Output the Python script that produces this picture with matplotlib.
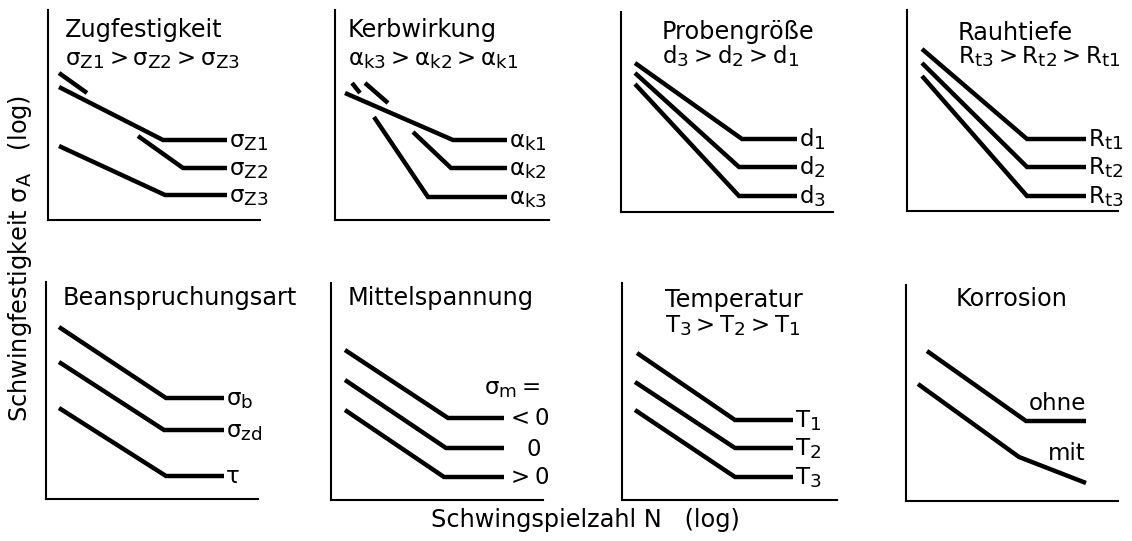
import matplotlib

matplotlib.use("Agg")

import numpy as np
import matplotlib.pyplot as plt
import matplotlib._mathtext as mathtext_internals

plt.rcParams["font.family"] = ["DejaVu Sans"]
plt.rcParams["mathtext.fontset"] = "dejavusans"
plt.rcParams["mathtext.default"] = "regular"
# the book figure uses rather large subscripts
mathtext_internals.SHRINK_FACTOR = 0.8

nan = np.nan

# curves per panel, in panel units (log N to the right, log sigma_A upwards)
zug_x = [[11, 115, 179], [11, 39, nan, 90, 135, 179], [11, 117, 179]]
zug_y = [[133, 80, 80], [147, 127, nan, 84, 52, 52], [74, 25, 25]]
zug_labels = ["$σ_{Z1}$", "$σ_{Z2}$", "$σ_{Z3}$"]

kerb_x = [[10, 118, 172], [30, 53, nan, 78, 116, 172], [17, 25, nan, 39, 93, 172]]
kerb_y = [[127, 80, 80], [137, 117, nan, 88, 52, 52], [137, 127, nan, 103, 23, 23]]
kerb_labels = ["$α_{k1}$", "$α_{k2}$", "$α_{k3}$"]

probe_x = [[14, 121, 176], [14, 118, 176], [14, 118, 176]]
probe_y = [[149, 73, 73], [139, 45, 45], [128, 16, 16]]
probe_labels = ["$d_1$", "$d_2$", "$d_3$"]

rauh_x = [[15, 120, 179], [15, 120, 179], [15, 120, 179]]
rauh_y = [[162, 72, 72], [148, 44, 44], [135, 15, 15]]
rauh_labels = ["$R_{t1}$", "$R_{t2}$", "$R_{t3}$"]

bean_x = [[13, 120, 178], [13, 118, 178], [13, 120, 178]]
bean_y = [[172, 101, 101], [137, 69, 69], [91, 23, 23]]
bean_labels = ["$σ_b$", "$σ_{zd}$", "τ"]

mittel_x = [[14, 117, 173], [14, 115, 173], [14, 113, 173]]
mittel_y = [[150, 82, 82], [120, 52, 52], [90, 23, 23]]
mittel_labels = ["$<$0", "", "$>$0"]

temp_x = [[15, 113, 171], [13, 113, 171], [13, 113, 171]]
temp_y = [[147, 80, 80], [118, 52, 52], [90, 23, 23]]
temp_labels = ["$T_1$", "$T_2$", "$T_3$"]

korr_x = [[21, 120, 180], [12, 113, 180]]
korr_y = [[150, 80, 80], [117, 44, 18]]
korr_labels = ["", ""]

W, H = 1132, 541

panels = [
    dict(box=(48, 10, 260, 220), title="Zugfestigkeit", tx=17, ty=183,
         sub="$σ_{Z1} > σ_{Z2} > σ_{Z3}$", sy=155,
         xs=zug_x, ys=zug_y, labels=zug_labels),
    dict(box=(335, 10, 549, 220), title="Kerbwirkung", tx=13, ty=183,
         sub="$α_{k3} > α_{k2} > α_{k1}$", sy=155,
         xs=kerb_x, ys=kerb_y, labels=kerb_labels),
    dict(box=(621, 12, 833, 212), title="Probengröße", tx=41, ty=173,
         sub="$d_3 > d_2 > d_1$", sy=149,
         xs=probe_x, ys=probe_y, labels=probe_labels),
    dict(box=(907, 10, 1118, 211), title="Rauhtiefe", tx=51, ty=171,
         sub="$R_{t3} > R_{t2} > R_{t1}$", sy=148,
         xs=rauh_x, ys=rauh_y, labels=rauh_labels),
    dict(box=(46, 282, 258, 499), title="Beanspruchungsart", tx=17, ty=194,
         sub=None, sy=None, xs=bean_x, ys=bean_y, labels=bean_labels),
    dict(box=(331, 283, 543, 500), title="Mittelspannung", tx=17, ty=195,
         sub=None, sy=None, xs=mittel_x, ys=mittel_y, labels=mittel_labels),
    dict(box=(622, 283, 837, 500), title="Temperatur", tx=43, ty=193,
         sub="$T_3 > T_2 > T_1$", sy=168,
         xs=temp_x, ys=temp_y, labels=temp_labels),
    dict(box=(906, 285, 1118, 501), title="Korrosion", tx=50, ty=195,
         sub=None, sy=None, xs=korr_x, ys=korr_y, labels=korr_labels),
]

TITLE_SIZE = 17.3
LABEL_SIZE = 16.5

fig = plt.figure(figsize=(W / 100, H / 100), dpi=100)
fig.patch.set_facecolor("white")

axes = []
for p in panels:
    left, top, right, bottom = p["box"]
    ax = fig.add_axes([left / W, 1 - bottom / H, (right - left) / W, (bottom - top) / H])
    ax.set_xlim(0, right - left)
    ax.set_ylim(0, bottom - top)
    ax.set_xticks([])
    ax.set_yticks([])
    for side in ("top", "right"):
        ax.spines[side].set_visible(False)
    for side in ("left", "bottom"):
        ax.spines[side].set_linewidth(1.5)
        ax.spines[side].set_capstyle("projecting")

    for xs, ys, lab in zip(p["xs"], p["ys"], p["labels"]):
        ax.plot(xs, ys, color="black", lw=3.2, solid_capstyle="butt",
                solid_joinstyle="miter", clip_on=False)
        if lab:
            ax.annotate(lab, xy=(xs[-1], ys[-1]), xytext=(2, -7),
                        textcoords="offset pixels", ha="left", va="baseline",
                        fontsize=LABEL_SIZE)

    ax.text(p["tx"], p["ty"], p["title"], ha="left", va="baseline",
            fontsize=TITLE_SIZE)
    if p["sub"]:
        ax.text(p["tx"], p["sy"], p["sub"], ha="left", va="baseline",
                fontsize=LABEL_SIZE)
    axes.append(ax)

# extra labels in Mittelspannung and Korrosion panels
ax_m = axes[5]
ax_m.text(153, 106, "$σ_m =$", ha="left", va="baseline", fontsize=LABEL_SIZE)
ax_m.text(203, 44, "0", ha="center", va="baseline", fontsize=LABEL_SIZE)

ax_k = axes[7]
ax_k.text(180, 91, "ohne", ha="right", va="baseline", fontsize=LABEL_SIZE)
ax_k.text(180, 41, "mit", ha="right", va="baseline", fontsize=LABEL_SIZE)

fig.text(20 / W, 1 - 258 / H, "Schwingfestigkeit $σ_A$   (log)", rotation=90,
         ha="center", va="center", fontsize=TITLE_SIZE)
fig.text(585 / W, 1 - 520 / H, "Schwingspielzahl N   (log)",
         ha="center", va="center", fontsize=TITLE_SIZE)

fig.savefig("out.png", dpi=100, facecolor="white")
